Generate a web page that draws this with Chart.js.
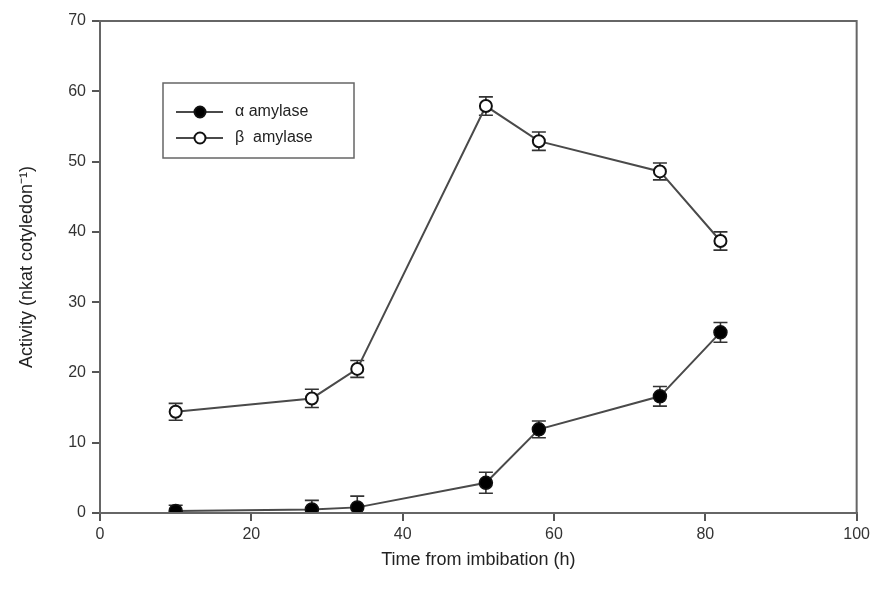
<!DOCTYPE html>
<html>
<head>
<meta charset="utf-8">
<script src="https://cdn.jsdelivr.net/npm/chart.js@4.4.0/dist/chart.umd.min.js"></script>
<style>
  html, body { margin: 0; padding: 0; background: #fff; }
  #wrap { width: 874px; height: 597px; }
</style>
</head>
<body>
<div id="wrap"><canvas id="c" width="874" height="597"></canvas></div>
<script>
// data
const hours = [10, 28, 34, 51, 58, 74, 82];
const alphaVals = [0.3, 0.5, 0.8, 4.3, 11.9, 16.6, 25.7];
const alphaErr = [0.8, 1.3, 1.6, 1.5, 1.2, 1.4, 1.4];
const betaVals = [14.4, 16.3, 20.5, 57.9, 52.9, 48.6, 38.7];
const betaErr = [1.2, 1.3, 1.2, 1.3, 1.3, 1.2, 1.3];
const xTicks = [0, 20, 40, 60, 80, 100];
const yTicks = [0, 10, 20, 30, 40, 50, 60, 70];

const lineCol = '#4a4a4a';
const font = "'Liberation Sans', Arial, sans-serif";

function pts(vals) {
    return hours.map(function (h, i) { return { x: h, y: vals[i] }; });
}

// error bars + frame + legend
const extras = {
    id: 'extras',
    beforeDatasetsDraw: function (chart) {
        const ctx = chart.ctx;
        const xs = chart.scales.x, ys = chart.scales.y;
        const sets = [[alphaVals, alphaErr], [betaVals, betaErr]];
        ctx.save();
        ctx.strokeStyle = '#333';
        ctx.lineWidth = 1.6;
        sets.forEach(function (s) {
            hours.forEach(function (h, i) {
                const px = xs.getPixelForValue(h);
                const top = ys.getPixelForValue(s[0][i] + s[1][i]);
                const bot = ys.getPixelForValue(Math.max(0, s[0][i] - s[1][i]));
                ctx.beginPath();
                ctx.moveTo(px, top); ctx.lineTo(px, bot);
                ctx.moveTo(px - 7, top); ctx.lineTo(px + 7, top);
                ctx.moveTo(px - 7, bot); ctx.lineTo(px + 7, bot);
                ctx.stroke();
            });
        });
        ctx.restore();
    },
    afterDraw: function (chart) {
        const ctx = chart.ctx;
        const a = chart.chartArea;
        ctx.save();
        ctx.strokeStyle = '#666';
        ctx.lineWidth = 2;
        ctx.strokeRect(a.left, a.top, a.right - a.left, a.bottom - a.top);

        // legend box
        const lx = a.left + 63, ly = a.top + 62;
        ctx.strokeStyle = '#666';
        ctx.lineWidth = 1.5;
        ctx.strokeRect(lx, ly, 191, 75);
        const rows = [
            { y: ly + 29, fill: '#000', text: '\u03b1 amylase' },
            { y: ly + 55, fill: '#fff', text: '\u03b2  amylase' }
        ];
        ctx.font = '16px ' + font;
        ctx.textBaseline = 'middle';
        rows.forEach(function (r) {
            ctx.strokeStyle = lineCol;
            ctx.lineWidth = 2;
            ctx.beginPath();
            ctx.moveTo(lx + 13, r.y); ctx.lineTo(lx + 60, r.y);
            ctx.stroke();
            ctx.beginPath();
            ctx.arc(lx + 37, r.y, 5.5, 0, Math.PI * 2);
            ctx.fillStyle = r.fill;
            ctx.fill();
            ctx.strokeStyle = '#111';
            ctx.stroke();
            ctx.fillStyle = '#222';
            ctx.fillText(r.text, lx + 72, r.y);
        });
        ctx.restore();
    }
};

new Chart(document.getElementById('c'), {
    type: 'line',
    data: {
        datasets: [
            {
                label: '\u03b1 amylase',
                data: pts(alphaVals),
                borderColor: lineCol,
                borderWidth: 2,
                pointRadius: 6.5,
                pointBackgroundColor: '#000',
                pointBorderColor: '#111',
                pointBorderWidth: 1.5,
                tension: 0
            },
            {
                label: '\u03b2 amylase',
                data: pts(betaVals),
                borderColor: lineCol,
                borderWidth: 2,
                pointRadius: 6,
                pointBackgroundColor: '#fff',
                pointBorderColor: '#111',
                pointBorderWidth: 2,
                tension: 0
            }
        ]
    },
    options: {
        responsive: false,
        animation: false,
        layout: { padding: { left: 12, right: 17, top: 21, bottom: 22 } },
        plugins: {
            legend: { display: false },
            tooltip: { enabled: false }
        },
        scales: {
            x: {
                type: 'linear',
                min: 0, max: 100,
                afterBuildTicks: function (s) { s.ticks = xTicks.map(function (v) { return { value: v }; }); },
                afterFit: function (s) { s.height = 62; },
                grid: { drawOnChartArea: false, tickLength: 8, color: '#555', lineWidth: 2 },
                border: { color: '#666', width: 2 },
                ticks: { color: '#333', font: { family: font, size: 16 }, padding: 4, maxRotation: 0 },
                title: { display: true, text: 'Time from imbibation (h)', color: '#222', font: { family: font, size: 18 }, padding: { top: 6 } }
            },
            y: {
                type: 'linear',
                min: 0, max: 70,
                afterBuildTicks: function (s) { s.ticks = yTicks.map(function (v) { return { value: v }; }); },
                afterFit: function (s) { s.width = 88; },
                grid: { drawOnChartArea: false, tickLength: 8, color: '#555', lineWidth: 2 },
                border: { color: '#666', width: 2 },
                ticks: { color: '#333', font: { family: font, size: 16 }, padding: 6 },
                title: { display: true, text: 'Activity (nkat cotyledon\u207b\u00b9)', color: '#222', font: { family: font, size: 18 }, padding: { bottom: 4 } }
            }
        }
    },
    plugins: [extras]
});
</script>
</body>
</html>
